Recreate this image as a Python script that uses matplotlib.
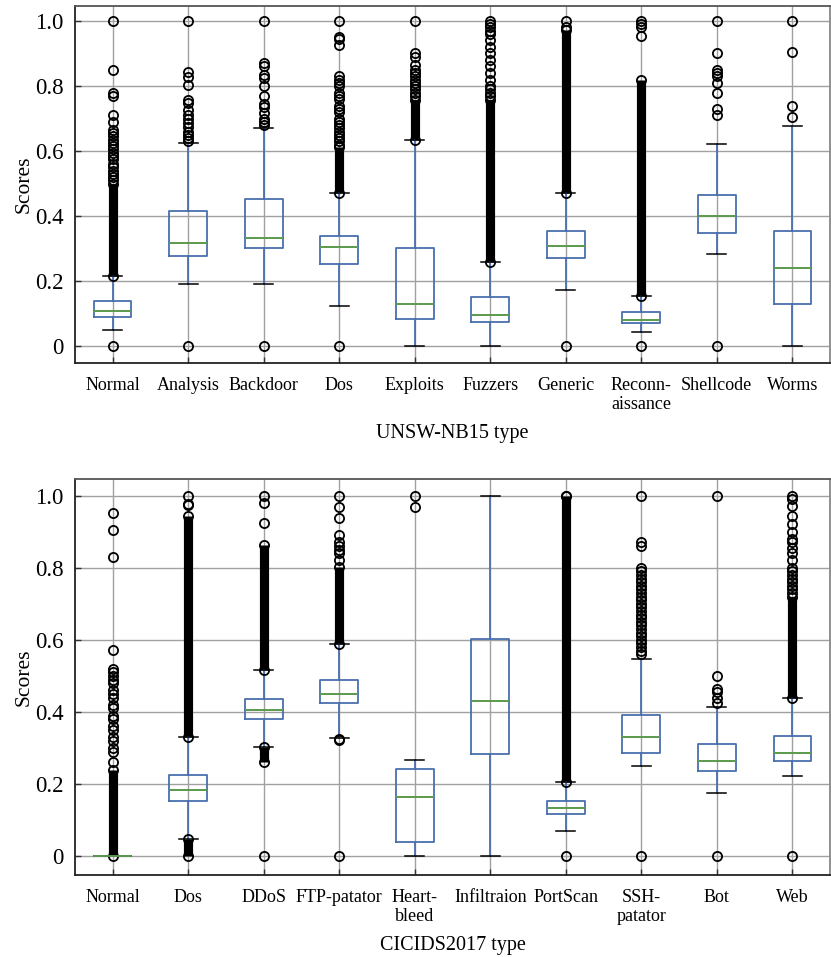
import matplotlib
matplotlib.use("Agg")
import matplotlib.pyplot as plt

plt.rcParams['font.family'] = ['Liberation Serif', 'DejaVu Serif']

# ---------------- UNSW-NB15 ----------------
unsw_cats = ["Normal", "Analysis", "Backdoor", "Dos", "Exploits", "Fuzzers",
             "Generic", "Reconn-\naissance", "Shellcode", "Worms"]
unsw_q1 = [0.090, 0.277, 0.301, 0.251, 0.083, 0.075, 0.272, 0.070, 0.348, 0.129]
unsw_med = [0.109, 0.316, 0.331, 0.304, 0.129, 0.096, 0.308, 0.080, 0.400, 0.239]
unsw_q3 = [0.139, 0.416, 0.451, 0.338, 0.303, 0.152, 0.355, 0.104, 0.465, 0.355]
unsw_wlo = [0.051, 0.191, 0.191, 0.124, 0.0, 0.0, 0.174, 0.042, 0.282, 0.0]
unsw_whi = [0.215, 0.624, 0.672, 0.471, 0.633, 0.258, 0.472, 0.154, 0.623, 0.677]
unsw_fliers = [
    [0.0, 0.51, 0.52, 0.53, 0.54, 0.55, 0.56, 0.575, 0.585, 0.595, 0.605, 0.615,
     0.625, 0.635, 0.645, 0.655, 0.665, 0.69, 0.71, 0.77, 0.78, 0.85, 1.0],
    [0.0, 0.632, 0.64, 0.649, 0.66, 0.675, 0.685, 0.70, 0.711, 0.726, 0.747,
     0.757, 0.803, 0.829, 0.844, 1.0],
    [0.0, 0.68, 0.69, 0.70, 0.718, 0.735, 0.745, 0.77, 0.80, 0.825, 0.835,
     0.86, 0.87, 1.0],
    [0.0, 0.62, 0.63, 0.64, 0.65, 0.66, 0.67, 0.68, 0.69, 0.70, 0.72, 0.73,
     0.74, 0.76, 0.77, 0.78, 0.80, 0.81, 0.82, 0.83, 0.925, 0.945, 0.95, 1.0],
    [0.77, 0.78, 0.79, 0.80, 0.81, 0.82, 0.83, 0.84, 0.85, 0.865, 0.89, 0.90, 1.0],
    [0.77, 0.78, 0.79, 0.80, 0.82, 0.84, 0.86, 0.88, 0.90, 0.92, 0.94, 0.96,
     0.97, 0.98, 0.99, 1.0],
    [0.0, 0.98, 1.0],
    [0.0, 0.954, 0.98, 0.99, 1.0],
    [0.0, 0.71, 0.73, 0.78, 0.81, 0.83, 0.84, 0.85, 0.90, 1.0],
    [0.704, 0.738, 0.904, 1.0],
]
# dense outlier bands (low, high) drawn as solid stacks of circles
unsw_bands = [
    [(0.215, 0.50)],
    [],
    [],
    [(0.471, 0.613)],
    [(0.633, 0.757)],
    [(0.258, 0.757)],
    [(0.472, 0.972)],
    [(0.154, 0.818)],
    [],
    [],
]

# ---------------- CICIDS2017 ----------------
cic_cats = ["Normal", "Dos", "DDoS", "FTP-patator", "Heart-\nbleed",
            "Infiltraion", "PortScan", "SSH-\npatator", "Bot", "Web"]
cic_q1 = [0.0, 0.153, 0.381, 0.426, 0.039, 0.284, 0.118, 0.286, 0.237, 0.263]
cic_med = [0.0, 0.183, 0.405, 0.451, 0.163, 0.430, 0.135, 0.331, 0.265, 0.287]
cic_q3 = [0.001, 0.225, 0.435, 0.489, 0.241, 0.602, 0.153, 0.391, 0.310, 0.333]
cic_wlo = [0.0, 0.047, 0.302, 0.328, 0.0, 0.0, 0.070, 0.251, 0.176, 0.222]
cic_whi = [0.0, 0.331, 0.515, 0.588, 0.266, 1.0, 0.206, 0.547, 0.413, 0.439]
cic_fliers = [
    [0.26, 0.29, 0.30, 0.32, 0.33, 0.35, 0.36, 0.38, 0.39, 0.41, 0.42, 0.44,
     0.45, 0.46, 0.48, 0.49, 0.50, 0.51, 0.52, 0.572, 0.829, 0.904, 0.951],
    [0.974, 0.978, 1.0],
    [0.0, 0.923, 0.98, 1.0],
    [0.0, 0.322, 0.326, 0.82, 0.84, 0.85, 0.86, 0.87, 0.891, 0.937, 0.967, 1.0],
    [0.967, 1.0],
    [],
    [0.0, 1.0],
    [0.0, 0.56, 0.57, 0.58, 0.59, 0.60, 0.61, 0.62, 0.63, 0.64, 0.65, 0.66,
     0.67, 0.68, 0.69, 0.70, 0.71, 0.72, 0.73, 0.74, 0.75, 0.76, 0.77, 0.78,
     0.79, 0.80, 0.86, 0.87, 1.0],
    [0.0, 0.426, 0.44, 0.455, 0.465, 0.50, 1.0],
    [0.0, 0.73, 0.74, 0.75, 0.76, 0.77, 0.78, 0.79, 0.80, 0.82, 0.84, 0.855,
     0.87, 0.88, 0.90, 0.92, 0.942, 0.97, 0.99, 1.0],
]
cic_bands = [
    [(0.0, 0.239)],
    [(0.0, 0.047), (0.331, 0.942)],
    [(0.262, 0.302), (0.515, 0.863)],
    [(0.588, 0.803)],
    [],
    [],
    [(0.206, 1.0)],
    [],
    [],
    [(0.439, 0.72)],
]

BOX_C = "#4a6fae"
MED_C = "#5a9a4e"
GRID_C = "#a0a0a0"


def draw(ax, cats, q1, med, q3, wlo, whi, fliers, bands, xlabel):
    stats = []
    for i in range(len(cats)):
        stats.append(dict(label=cats[i], q1=q1[i], med=med[i], q3=q3[i],
                          whislo=wlo[i], whishi=whi[i],
                          fliers=fliers[i] + [v for b in bands[i] for v in b]))
    ax.set_axisbelow(True)
    ax.grid(True, color=GRID_C, linewidth=1.0)
    pos = list(range(1, len(cats) + 1))
    # dense bands
    for i, bl in enumerate(bands):
        for lo, hi in bl:
            ax.vlines(pos[i], lo, hi, color="black", linewidth=6.6, zorder=3)
    ax.bxp(stats, positions=pos, widths=0.5,
           boxprops=dict(color=BOX_C, linewidth=1.3),
           whiskerprops=dict(color=BOX_C, linewidth=1.3),
           capprops=dict(color="black", linewidth=1.1),
           medianprops=dict(color=MED_C, linewidth=1.4),
           flierprops=dict(marker="o", markerfacecolor="none",
                           markeredgecolor="black", markersize=6.6,
                           markeredgewidth=1.3),
           zorder=4)
    ax.set_xlim(0.5, len(cats) + 0.5)
    ax.set_ylim(-0.052, 1.046)
    ax.set_yticks([0, 0.2, 0.4, 0.6, 0.8, 1.0])
    ax.set_yticklabels(["0", "0.2", "0.4", "0.6", "0.8", "1.0"])
    ax.set_xticks(pos)
    ax.set_xticklabels(cats, fontsize=13, linespacing=1.15)
    ax.tick_params(axis="both", direction="in", length=4, width=1.0,
                   color="#333333")
    ax.tick_params(axis="x", pad=10)
    ax.tick_params(axis="y", labelsize=16.5, pad=8)
    ax.set_ylabel("Scores", fontsize=15.5, labelpad=1)
    ax.set_xlabel(xlabel, fontsize=14.5, labelpad=8)
    for s in ax.spines.values():
        s.set_linewidth(1.3)
        s.set_color("#222222")
    ax.spines["top"].set_color("#555555")
    ax.spines["right"].set_color("#888888")


fig = plt.figure(figsize=(8.31, 9.57), dpi=100)
ax1 = fig.add_axes([0.090, 0.6207, 0.909, 0.3730])
ax2 = fig.add_axes([0.090, 0.0857, 0.909, 0.4138])

draw(ax1, unsw_cats, unsw_q1, unsw_med, unsw_q3, unsw_wlo, unsw_whi,
     unsw_fliers, unsw_bands, "UNSW-NB15 type")
draw(ax2, cic_cats, cic_q1, cic_med, cic_q3, cic_wlo, cic_whi,
     cic_fliers, cic_bands, "CICIDS2017 type")

fig.savefig("out.png", dpi=100)
